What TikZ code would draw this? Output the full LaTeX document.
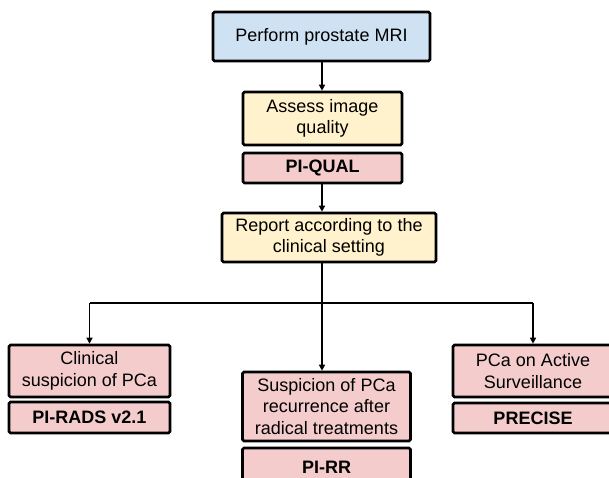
\documentclass[tikz,border=0pt]{standalone}
\usepackage{fontspec}
\setmainfont{Liberation Sans}
\usetikzlibrary{arrows.meta}
\definecolor{cblue}{HTML}{CFE2F3}
\definecolor{cyel}{HTML}{FFF2CC}
\definecolor{cpink}{HTML}{F4CCCC}
\begin{document}
\begin{tikzpicture}[x=1pt,y=-1pt,
  box/.style={draw=black, line width=2.6pt, rounded corners=1.5pt, align=center,
    inner sep=0pt, font=\fontsize{18}{21.5}\selectfont},
  lbl/.style={box, fill=cpink, font=\fontsize{18}{21.5}\selectfont\bfseries},
  conn/.style={line width=1.4pt, draw=black},
  arr/.style={conn, -{Triangle[length=6pt,width=6pt]}}]
\useasboundingbox (0,0) rectangle (609,478);
\clip (0,0) rectangle (609,478);
\node[box, fill=cblue, minimum width=217pt, minimum height=49pt] (top) at (321.5,36.5) {Perform prostate MRI};
\node[box, fill=cyel, minimum width=159pt, minimum height=53pt] (assess) at (322.5,118.5) {Assess image\\quality};
\node[lbl, minimum width=159pt, minimum height=30pt] (piqual) at (322.5,168) {PI-QUAL};
\node[box, fill=cyel, minimum width=214pt, minimum height=49pt] (report) at (329,237.5) {Report according to the\\clinical setting};
\node[box, fill=cpink, minimum width=161pt, minimum height=52pt] (left) at (89.5,371) {Clinical\\suspicion of PCa};
\node[lbl, minimum width=161pt, minimum height=31pt] (pirads) at (89.5,417.5) {PI-RADS v2.1};
\node[box, fill=cpink, minimum width=168pt, minimum height=69pt] (mid) at (326.5,406.5) {Suspicion of PCa\\recurrence after\\radical treatments};
\node[lbl, minimum width=168pt, minimum height=44pt, text depth=0pt] (pirr) at (326.5,470) {\raisebox{6pt}{PI-RR}};
\node[box, fill=cpink, minimum width=160pt, minimum height=52pt] (right) at (533,371) {PCa on Active\\Surveillance};
\node[lbl, minimum width=160pt, minimum height=30pt] (precise) at (533,418) {PRECISE};
\coordinate (j) at (322,303);
\draw[arr] (top.south -| j) -- (assess.north -| j);
\draw[arr] (piqual.south -| j) -- (report.north -| j);
\draw[arr] (report.south -| j) -- (j) -- (mid.north -| j);
\draw[conn] (j -| left.north) -- (j -| right.north);
\draw[arr] (j -| left.north) -- (left.north);
\draw[arr] (j -| right.north) -- (right.north);
\end{tikzpicture}
\end{document}
